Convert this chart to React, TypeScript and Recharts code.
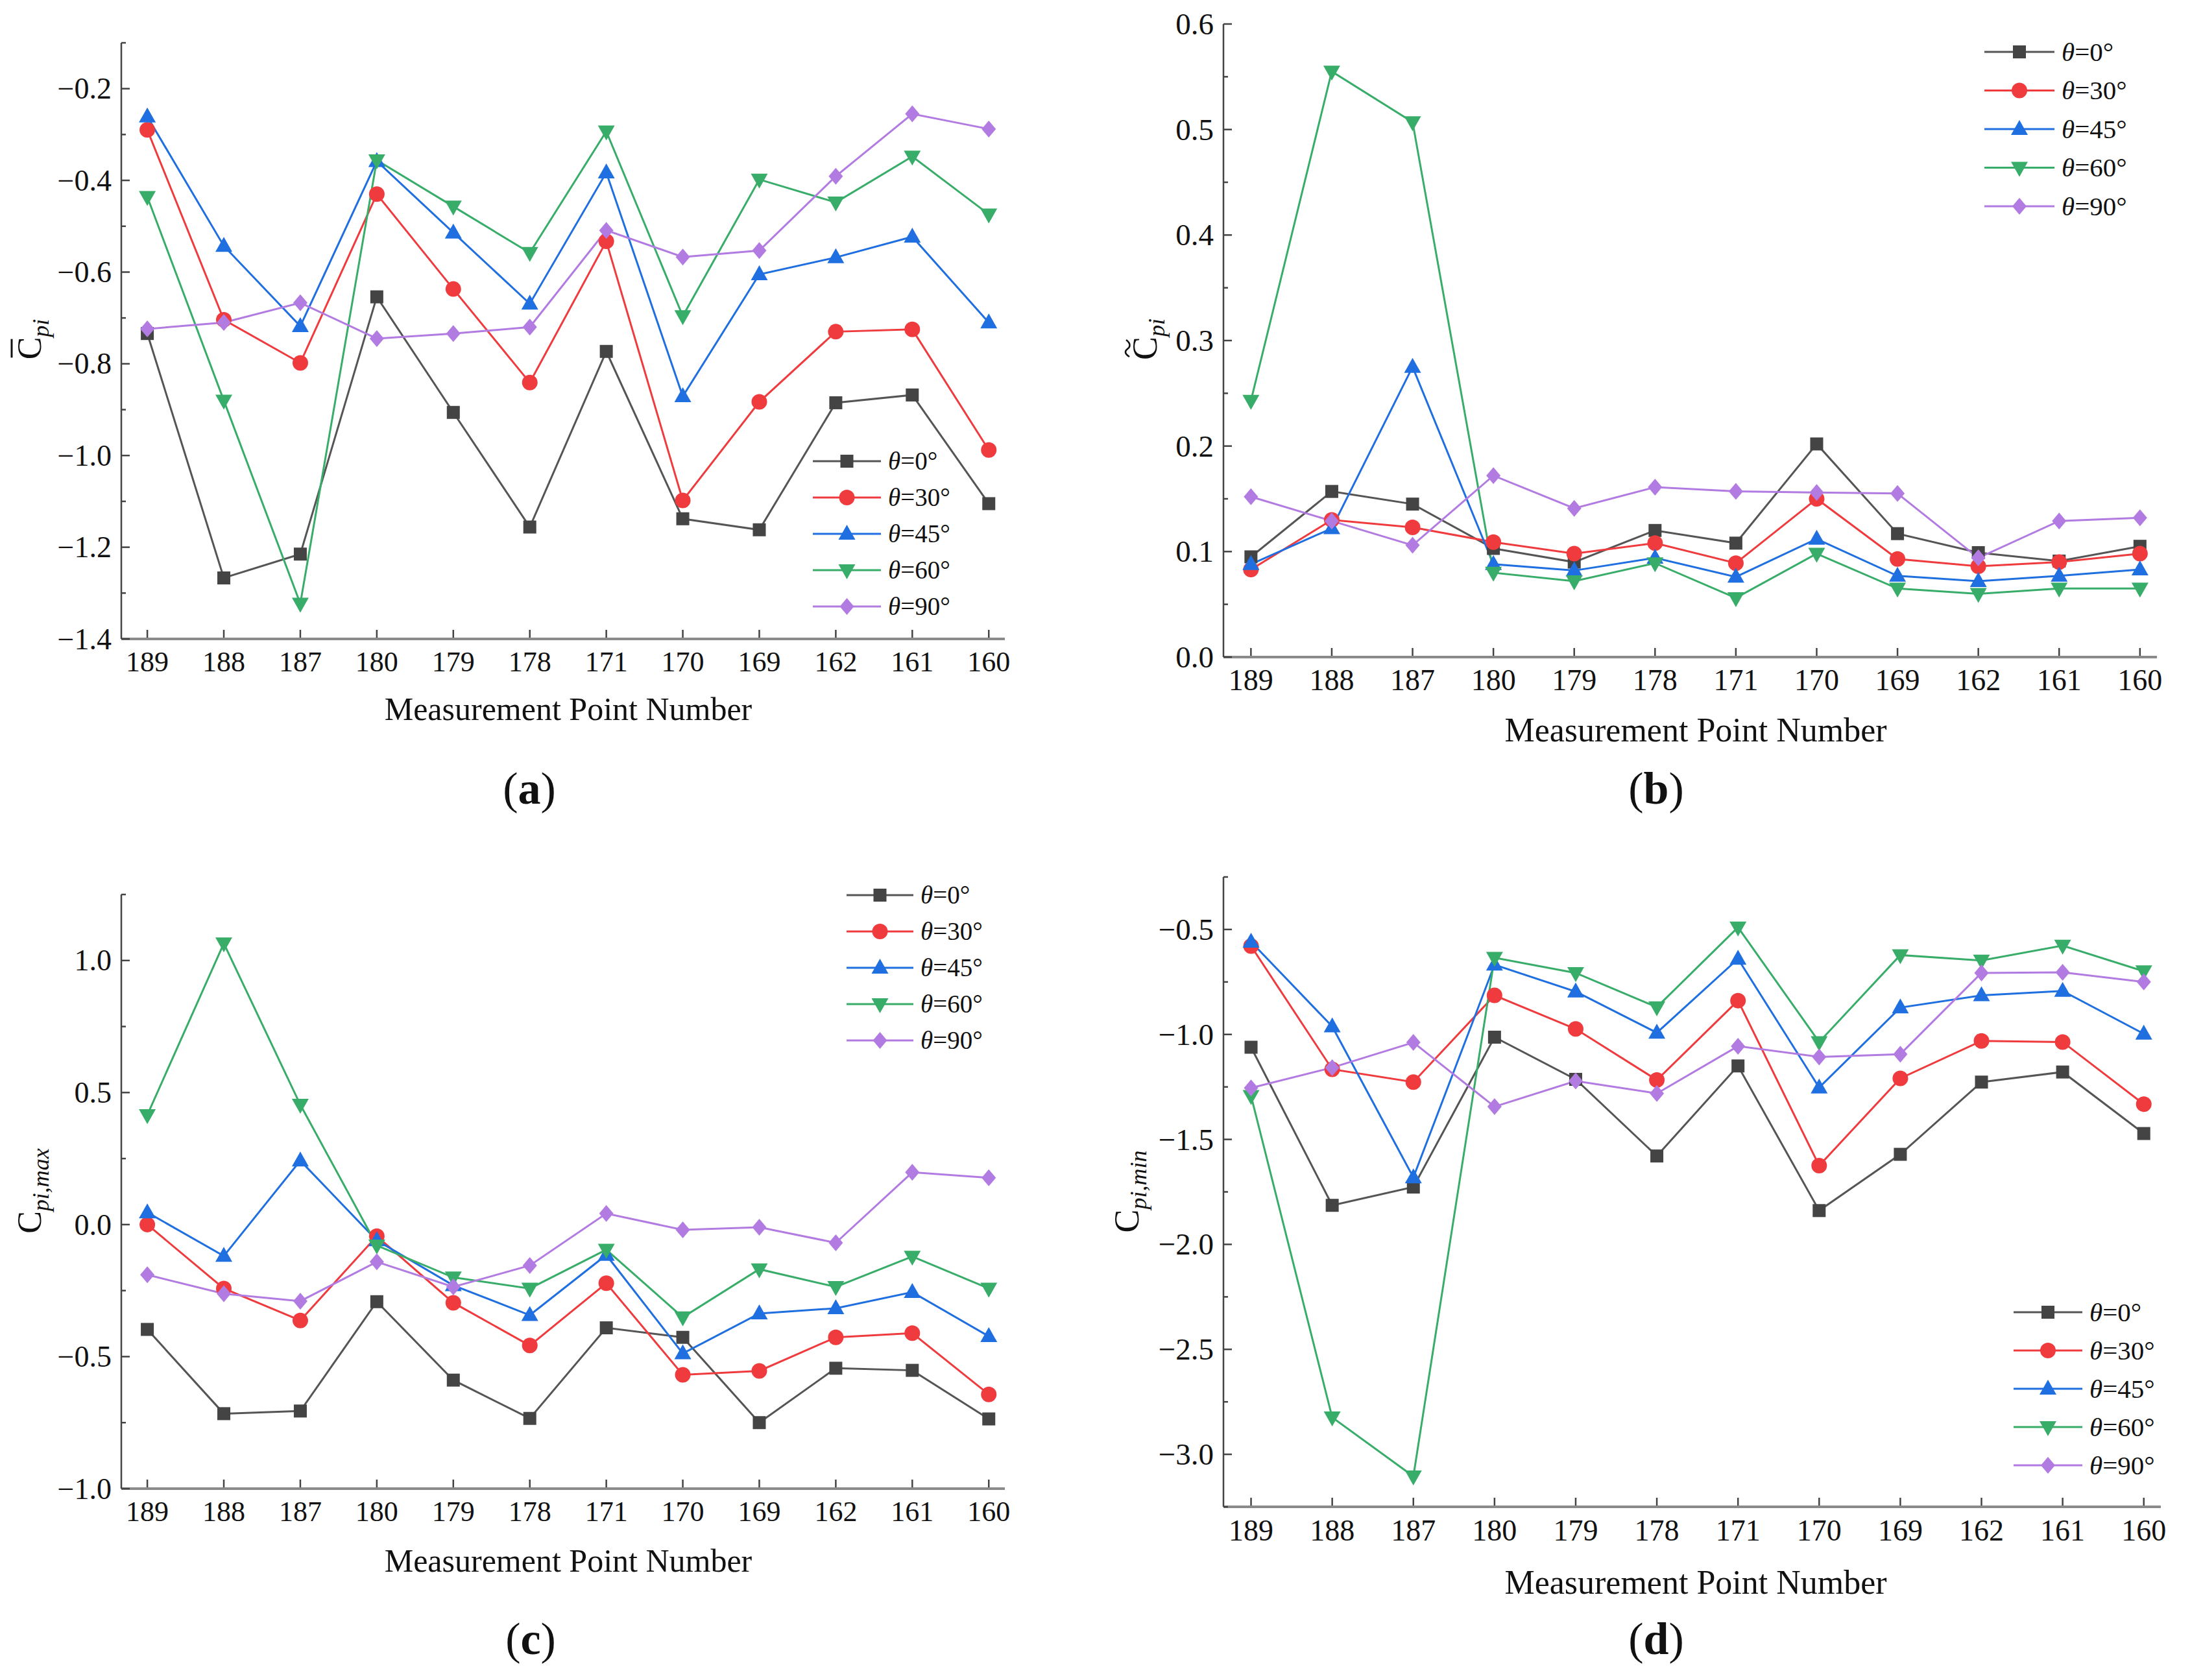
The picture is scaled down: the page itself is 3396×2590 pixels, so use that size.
import React from "react";
import { LineChart, Line, XAxis, YAxis, Legend, Label } from "recharts";

// measurement points along the x axis
const POINTS = ["189", "188", "187", "180", "179", "178", "171", "170", "169", "162", "161", "160"];
const THETAS = ["0", "30", "45", "60", "90"];

// (a) mean pressure coefficient
const MEAN_T0 = [-0.734, -1.267, -1.215, -0.654, -0.906, -1.156, -0.773, -1.138, -1.162, -0.885, -0.868, -1.105];
const MEAN_T30 = [-0.29, -0.704, -0.798, -0.43, -0.637, -0.841, -0.533, -1.098, -0.883, -0.73, -0.725, -0.988];
const MEAN_T45 = [-0.261, -0.543, -0.718, -0.358, -0.514, -0.669, -0.383, -0.871, -0.605, -0.568, -0.523, -0.71];
const MEAN_T60 = [-0.436, -0.88, -1.323, -0.356, -0.457, -0.558, -0.293, -0.696, -0.398, -0.448, -0.348, -0.474];
const MEAN_T90 = [-0.724, -0.71, -0.667, -0.745, -0.734, -0.72, -0.509, -0.567, -0.553, -0.391, -0.255, -0.288];

// (b) fluctuating pressure coefficient
const RMS_T0 = [0.095, 0.157, 0.145, 0.103, 0.09, 0.12, 0.108, 0.202, 0.117, 0.099, 0.091, 0.105];
const RMS_T30 = [0.083, 0.13, 0.123, 0.109, 0.098, 0.108, 0.089, 0.15, 0.093, 0.086, 0.09, 0.098];
const RMS_T45 = [0.088, 0.122, 0.275, 0.088, 0.082, 0.094, 0.076, 0.112, 0.077, 0.072, 0.077, 0.083];
const RMS_T60 = [0.243, 0.555, 0.507, 0.08, 0.072, 0.089, 0.056, 0.098, 0.065, 0.06, 0.065, 0.065];
const RMS_T90 = [0.152, 0.129, 0.106, 0.172, 0.141, 0.161, 0.157, 0.156, 0.155, 0.094, 0.129, 0.132];

// (c) maximum pressure coefficient
const MAX_T0 = [-0.397, -0.716, -0.706, -0.292, -0.589, -0.734, -0.391, -0.427, -0.75, -0.544, -0.552, -0.736];
const MAX_T30 = [0.0, -0.242, -0.363, -0.044, -0.296, -0.458, -0.222, -0.569, -0.554, -0.427, -0.411, -0.643];
const MAX_T45 = [0.046, -0.119, 0.242, -0.06, -0.23, -0.343, -0.115, -0.488, -0.337, -0.317, -0.256, -0.423];
const MAX_T60 = [0.415, 1.065, 0.454, -0.079, -0.2, -0.242, -0.095, -0.351, -0.169, -0.236, -0.121, -0.242];
const MAX_T90 = [-0.19, -0.262, -0.29, -0.141, -0.236, -0.155, 0.042, -0.02, -0.01, -0.069, 0.198, 0.177];

// (d) minimum pressure coefficient
const MIN_T0 = [-1.061, -1.814, -1.727, -1.013, -1.214, -1.579, -1.15, -1.839, -1.571, -1.227, -1.179, -1.472];
const MIN_T30 = [-0.579, -1.166, -1.227, -0.814, -0.974, -1.217, -0.839, -1.625, -1.209, -1.031, -1.036, -1.332];
const MIN_T45 = [-0.559, -0.962, -1.681, -0.668, -0.796, -0.992, -0.64, -1.253, -0.872, -0.814, -0.793, -0.997];
const MIN_T60 = [-1.293, -2.824, -3.105, -0.635, -0.707, -0.87, -0.49, -1.036, -0.622, -0.648, -0.577, -0.699];
const MIN_T90 = [-1.255, -1.158, -1.038, -1.344, -1.222, -1.281, -1.056, -1.107, -1.094, -0.707, -0.704, -0.75];

// y ticks (all) and the labelled ones
const TICKS_A = [-1.4, -1.3, -1.2, -1.1, -1.0, -0.9, -0.8, -0.7, -0.6, -0.5, -0.4, -0.3, -0.2, -0.1];
const MAJOR_A = [-1.4, -1.2, -1.0, -0.8, -0.6, -0.4, -0.2];
const TICKS_B = [0, 0.05, 0.1, 0.15, 0.2, 0.25, 0.3, 0.35, 0.4, 0.45, 0.5, 0.55, 0.6];
const MAJOR_B = [0, 0.1, 0.2, 0.3, 0.4, 0.5, 0.6];
const TICKS_C = [-1.0, -0.75, -0.5, -0.25, 0, 0.25, 0.5, 0.75, 1.0, 1.25];
const MAJOR_C = [-1.0, -0.5, 0, 0.5, 1.0];
const TICKS_D = [-3.25, -3.0, -2.75, -2.5, -2.25, -2.0, -1.75, -1.5, -1.25, -1.0, -0.75, -0.5, -0.25];
const MAJOR_D = [-3.0, -2.5, -2.0, -1.5, -1.0, -0.5];

const COLORS = ["#444444", "#ef3b3e", "#1f6fe0", "#38ad69", "#b27be2"];
const LINE_COLORS = ["#555555", "#ef3b3e", "#1f6fe0", "#38ad69", "#b27be2"];
const SHAPES = ["square", "circle", "up", "down", "diamond"];
const FONT = "Liberation Serif, Times New Roman, serif";

function Marker({ cx, cy, shape, color }: any) {
  if (cx == null || cy == null) return null;
  if (shape === "square") return <rect x={cx - 10} y={cy - 10} width={20} height={20} fill={color} />;
  if (shape === "circle") return <circle cx={cx} cy={cy} r={12} fill={color} />;
  if (shape === "up")
    return <polygon points={`${cx},${cy - 14} ${cx - 13},${cy + 9} ${cx + 13},${cy + 9}`} fill={color} />;
  if (shape === "down")
    return <polygon points={`${cx},${cy + 14} ${cx - 13},${cy - 9} ${cx + 13},${cy - 9}`} fill={color} />;
  return <polygon points={`${cx},${cy - 13} ${cx + 11},${cy} ${cx},${cy + 13} ${cx - 11},${cy}`} fill={color} />;
}

const fmt = (v: number) => (v < 0 ? "\u2212" : "") + Math.abs(v).toFixed(1);

const SUB_W: Record<string, number> = { p: 0.5, i: 0.278, ",": 0.25, m: 0.722, a: 0.5, x: 0.444, n: 0.5 };

function YTitle({ bx, cy, accent, sub, fs }: any) {
  const subFs = 36;
  const cW = 0.667 * fs;
  const subW = sub.split("").reduce((s: number, c: string) => s + (SUB_W[c] || 0.5), 0) * subFs;
  const xs = -(cW + subW) / 2;
  return (
    <g transform={`translate(${bx}, ${cy}) rotate(-90)`}>
      <text x={xs} y={0} fontFamily={FONT} fontSize={fs} fill="#111">
        C
        <tspan dy={12} fontSize={subFs} fontStyle="italic">
          {sub}
        </tspan>
      </text>
      {accent === "bar" && (
        <line x1={xs + 3} x2={xs + cW - 3} y1={-45} y2={-45} stroke="#111" strokeWidth={3} />
      )}
      {accent === "tilde" && (
        <path
          d={`M ${xs + 5} ${-42} C ${xs + 10} ${-50}, ${xs + 14} ${-49}, ${xs + 17} ${-45} S ${xs + 25} ${-39}, ${xs + 31} ${-47}`}
          stroke="#111"
          strokeWidth={2.5}
          fill="none"
        />
      )}
    </g>
  );
}

function Panel({ cfg }: any) {
  const rows = POINTS.map((p, i) => {
    const r: any = { i, point: p };
    cfg.series.forEach((s: number[], k: number) => (r["s" + k] = s[i]));
    return r;
  });
  const idx = POINTS.map((_, i) => i);
  const isMajor = (v: number) => cfg.yMajor.some((m: number) => Math.abs(m - v) < 1e-9);
  const lg = cfg.legend;

  return (
    <div style={{ position: "absolute", left: cfg.left, top: cfg.top, width: cfg.width, height: cfg.height }}>
      <LineChart
        width={cfg.width}
        height={cfg.height}
        data={rows}
        margin={{ top: cfg.mTop, right: cfg.mRight, bottom: 0, left: 0 }}
      >
        <XAxis
          dataKey="i"
          type="number"
          domain={[-0.34, 11.21]}
          ticks={idx}
          interval={0}
          height={cfg.xAxisH}
          tickSize={0}
          tickMargin={0}
          tickLine={false}
          axisLine={{ stroke: "#8a8a8a", strokeWidth: 4 }}
          tick={(p: any) => (
            <g>
              <line x1={p.x} x2={p.x} y1={p.y - 2} y2={p.y - 14} stroke="#444" strokeWidth={2.5} />
              <text x={p.x} y={p.y + cfg.tickDy} textAnchor="middle" fontFamily={FONT} fontSize={cfg.xTickFs} fill="#111">
                {POINTS[p.payload.value]}
              </text>
            </g>
          )}
        >
          <Label
            content={() => (
              <text x={cfg.titleX} y={cfg.titleY} textAnchor="middle" fontFamily={FONT} fontSize={cfg.titleFs} fill="#111">
                Measurement Point Number
              </text>
            )}
          />
          <Label
            content={() => (
              <text x={cfg.letterX} y={cfg.letterY} textAnchor="middle" fontFamily={FONT} fontSize={70} fill="#111">
                (<tspan fontWeight="bold">{cfg.letter}</tspan>)
              </text>
            )}
          />
        </XAxis>
        <YAxis
          type="number"
          domain={cfg.yDomain}
          ticks={cfg.yTicks}
          interval={0}
          width={cfg.yAxisW}
          tickSize={0}
          tickMargin={0}
          tickLine={false}
          axisLine={{ stroke: "#444", strokeWidth: 2.5 }}
          tick={(p: any) => {
            const major = isMajor(p.payload.value);
            return (
              <g>
                <line x1={p.x} x2={p.x + (major ? 13 : 7)} y1={p.y} y2={p.y} stroke="#444" strokeWidth={2.5} />
                {major && (
                  <text x={p.x - 15} y={p.y + 0.34 * cfg.yTickFs} textAnchor="end" fontFamily={FONT} fontSize={cfg.yTickFs} fill="#111">
                    {fmt(p.payload.value)}
                  </text>
                )}
              </g>
            );
          }}
        >
          <Label
            content={() => (
              <YTitle bx={cfg.yTitle.bx} cy={cfg.yTitle.cy} accent={cfg.yTitle.accent} sub={cfg.yTitle.sub} fs={cfg.yTitle.fs} />
            )}
          />
        </YAxis>
        <Legend
          layout="vertical"
          align="center"
          verticalAlign="middle"
          wrapperStyle={{ left: lg.left, top: lg.top, width: 320, height: lg.gap * 5 + 20 }}
          content={() => (
            <svg width={320} height={lg.gap * 5 + 20}>
              {THETAS.map((t, k) => {
                const y = 31 + k * lg.gap;
                return (
                  <g key={t}>
                    <line x1={13} x2={13 + lg.len} y1={y} y2={y} stroke={LINE_COLORS[k]} strokeWidth={3} />
                    <Marker cx={13 + lg.len / 2} cy={y} shape={SHAPES[k]} color={COLORS[k]} />
                    <text x={24 + lg.len} y={y + 0.33 * lg.fs} fontFamily={FONT} fontSize={lg.fs} fill="#111">
                      <tspan fontStyle="italic">θ</tspan>={t}°
                    </text>
                  </g>
                );
              })}
            </svg>
          )}
        />
        {THETAS.map((t, k) => (
          <Line
            key={t}
            dataKey={"s" + k}
            name={`θ=${t}°`}
            stroke={LINE_COLORS[k]}
            strokeWidth={3}
            isAnimationActive={false}
            dot={(p: any) => <Marker key={`d${k}-${p.index}`} cx={p.cx} cy={p.cy} shape={SHAPES[k]} color={COLORS[k]} />}
            activeDot={false}
          />
        ))}
      </LineChart>
    </div>
  );
}

const PANEL_A = {
  left: 0, top: 0, width: 1700, height: 1295,
  yAxisW: 187, mTop: 66, mRight: 151, xAxisH: 310,
  yDomain: [-1.4, -0.1], yTicks: TICKS_A, yMajor: MAJOR_A,
  series: [MEAN_T0, MEAN_T30, MEAN_T45, MEAN_T60, MEAN_T90],
  xTickFs: 44, yTickFs: 46, tickDy: 50, titleFs: 50, titleX: 876, titleY: 1110,
  letter: "a", letterX: 816, letterY: 1239,
  legend: { left: 1240, top: 680, len: 105, gap: 56, fs: 39 },
  yTitle: { bx: 63, cy: 523, accent: "bar", sub: "pi", fs: 52 },
};
const PANEL_B = {
  left: 1700, top: 0, width: 1696, height: 1295,
  yAxisW: 186, mTop: 37, mRight: 71, xAxisH: 282,
  yDomain: [0, 0.6], yTicks: TICKS_B, yMajor: MAJOR_B,
  series: [RMS_T0, RMS_T30, RMS_T45, RMS_T60, RMS_T90],
  xTickFs: 46, yTickFs: 47, tickDy: 51, titleFs: 52, titleX: 914, titleY: 1143,
  letter: "b", letterX: 853, letterY: 1239,
  legend: { left: 1346, top: 49, len: 108, gap: 59.5, fs: 41 },
  yTitle: { bx: 83, cy: 523, accent: "tilde", sub: "pi", fs: 54 },
};
const PANEL_C = {
  left: 0, top: 1295, width: 1700, height: 1295,
  yAxisW: 187, mTop: 84, mRight: 151, xAxisH: 295,
  yDomain: [-1.0, 1.25], yTicks: TICKS_C, yMajor: MAJOR_C,
  series: [MAX_T0, MAX_T30, MAX_T45, MAX_T60, MAX_T90],
  xTickFs: 44, yTickFs: 46, tickDy: 50, titleFs: 50, titleX: 876, titleY: 1128,
  letter: "c", letterX: 818, letterY: 1255,
  legend: { left: 1292, top: 54, len: 103, gap: 56, fs: 39 },
  yTitle: { bx: 63, cy: 541, accent: "none", sub: "pi,max", fs: 52 },
};
const PANEL_D = {
  left: 1700, top: 1295, width: 1696, height: 1295,
  yAxisW: 186, mTop: 57, mRight: 65, xAxisH: 267,
  yDomain: [-3.25, -0.25], yTicks: TICKS_D, yMajor: MAJOR_D,
  series: [MIN_T0, MIN_T30, MIN_T45, MIN_T60, MIN_T90],
  xTickFs: 46, yTickFs: 47, tickDy: 52, titleFs: 52, titleX: 914, titleY: 1162,
  letter: "d", letterX: 853, letterY: 1255,
  legend: { left: 1391, top: 697, len: 106, gap: 59, fs: 41 },
  yTitle: { bx: 55, cy: 542, accent: "none", sub: "pi,min", fs: 54 },
};

export default function App() {
  return (
    <div style={{ position: "absolute", left: 0, top: 0, width: 3396, height: 2590, background: "#fff", fontFamily: FONT }}>
      <Panel cfg={PANEL_A} />
      <Panel cfg={PANEL_B} />
      <Panel cfg={PANEL_C} />
      <Panel cfg={PANEL_D} />
    </div>
  );
}
